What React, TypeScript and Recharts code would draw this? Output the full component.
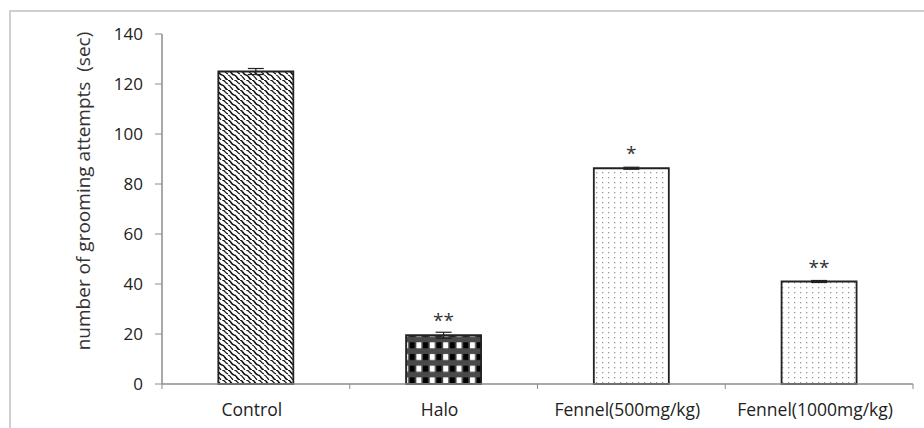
import React from 'react';
import { BarChart, Bar, XAxis, YAxis, ErrorBar, Cell, LabelList } from 'recharts';

const categories = ['Control', 'Halo', 'Fennel(500mg/kg)', 'Fennel(1000mg/kg)'];
const means = [125, 19.5, 86.3, 41];
const sem = [1.2, 1.2, 0.4, 0.4];
const stars = ['', '**', '*', '**'];
const patterns = ['url(#wave)', 'url(#checks)', 'url(#dots)', 'url(#dots)'];
const yTicks = [0, 20, 40, 60, 80, 100, 120, 140];

const data = categories.map((name, i) => ({ name, value: means[i], err: sem[i], star: stars[i] }));

const W = 924;
const H = 428;
const margin = { top: 34, right: 11, bottom: 14, left: 0 };
const yAxisWidth = 162;
const xAxisHeight = 30;
const band = (W - yAxisWidth - margin.right) / categories.length;
const font = '"Open Sans", sans-serif';

const CategoryTick = (props: any) => {
  const { x, y, payload, index } = props;
  const half = band / 2;
  return (
    <g>
      <line x1={x - half} x2={x - half} y1={y - 8} y2={y - 3} stroke="#8c8c8c" />
      {index === categories.length - 1 && (
        <line x1={x + half} x2={x + half} y1={y - 8} y2={y - 3} stroke="#8c8c8c" />
      )}
      <text x={x - 4} y={y + 24} textAnchor="middle" fontFamily={font} fontSize={17.5} fill="#222">
        {payload.value}
      </text>
    </g>
  );
};

const StarLabel = (props: any) => {
  const { x, y, width, value } = props;
  if (!value) return null;
  return (
    <text x={x + width / 2} y={y - 8} textAnchor="middle" fontFamily={font} fontSize={19} fill="#333">
      {value}
    </text>
  );
};

export default function App() {
  return (
    <div style={{ position: 'absolute', left: 0, top: 0, width: W, height: H, background: '#fff' }}>
      <div
        style={{
          position: 'absolute',
          left: 9,
          top: 10,
          width: W - 9,
          height: H - 10,
          borderTop: '2px solid #cfcfcf',
          borderLeft: '2px solid #cfcfcf',
          boxSizing: 'border-box',
        }}
      />
      <BarChart
        width={W}
        height={H}
        data={data}
        margin={margin}
        barCategoryGap="30%"
        style={{ position: 'absolute', left: 0, top: 0 }}
      >
        <defs>
          <pattern id="wave" width="12" height="10" patternUnits="userSpaceOnUse">
            <rect width="12" height="10" fill="#fff" />
            <path d="M0,0 C3,0 3,5 6,5 C9,5 9,10 12,10" fill="none" stroke="#111" strokeWidth="1.5" />
            <path d="M6,0 C9,0 9,3 12,4" fill="none" stroke="#111" strokeWidth="1.2" />
            <path d="M0,5 C2,5 3,8 5,10" fill="none" stroke="#111" strokeWidth="1.2" />
          </pattern>
          <pattern id="checks" width="13.4" height="11.7" patternUnits="userSpaceOnUse">
            <rect width="13.4" height="11.7" fill="#4a4a4a" />
            <rect x="1" y="3" width="5" height="6" fill="#fff" />
            <rect x="7.7" y="3" width="5" height="6" fill="#000" />
          </pattern>
          <pattern id="dots" width="6" height="5" patternUnits="userSpaceOnUse">
            <rect width="6" height="5" fill="#fff" />
            <rect x="2" y="2" width="1.3" height="1.3" fill="#9a9a9a" />
          </pattern>
        </defs>
        <XAxis
          dataKey="name"
          height={xAxisHeight}
          axisLine={{ stroke: '#8c8c8c', strokeWidth: 1.5 }}
          tickLine={false}
          tick={<CategoryTick />}
          interval={0}
        />
        <YAxis
          width={yAxisWidth}
          domain={[0, 140]}
          ticks={yTicks}
          interval={0}
          axisLine={{ stroke: '#8c8c8c', strokeWidth: 1.5 }}
          tickLine={{ stroke: '#8c8c8c' }}
          tickSize={7}
          tickMargin={12}
          tick={{ fontFamily: font, fontSize: 17, fill: '#222' }}
          label={{
            content: () => (
              <text
                x={0}
                y={0}
                transform="translate(90,191) rotate(-90)"
                textAnchor="middle"
                fontFamily={font}
                fontSize={19}
                fill="#333"
              >
                {'number of grooming attempts\u00a0 (sec)'}
              </text>
            ),
          }}
        />
        <Bar dataKey="value" stroke="#222" strokeWidth={1.8} isAnimationActive={false}>
          {data.map((d, i) => (
            <Cell key={d.name} fill={patterns[i]} />
          ))}
          <ErrorBar dataKey="err" width={8} stroke="#222" strokeWidth={1.2} />
          <LabelList dataKey="star" content={<StarLabel />} />
        </Bar>
      </BarChart>
    </div>
  );
}
